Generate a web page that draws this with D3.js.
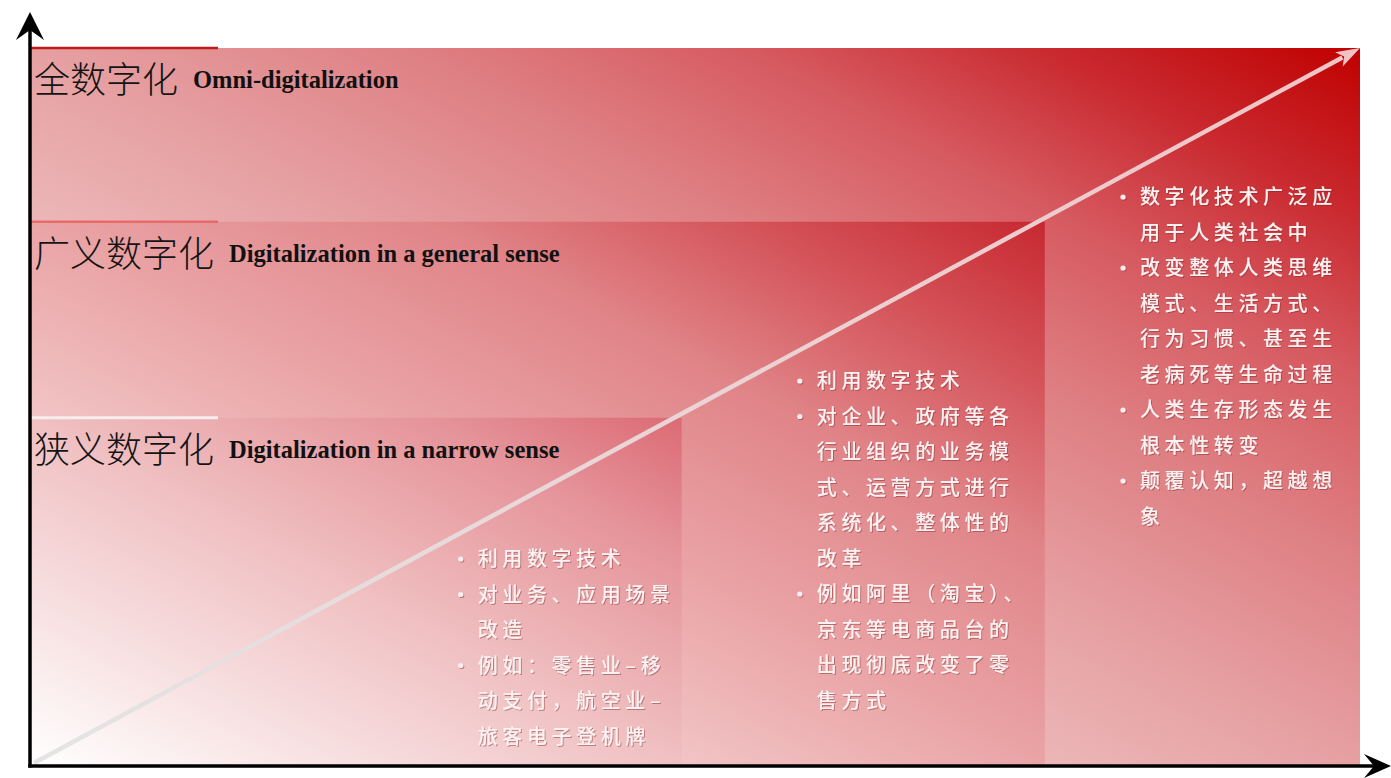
<!DOCTYPE html>
<html><head><meta charset="utf-8">
<script src="https://cdn.jsdelivr.net/npm/d3@7"></script>
<style>
html,body{margin:0;padding:0;background:#fff;}
svg{display:block;}
</style></head>
<body>
<svg id="chart" width="1391" height="778"></svg>
<script>
// ---- data ----
const levelNames = ["狭义数字化", "广义数字化", "全数字化"];
const levelEnglish = ["Digitalization in a narrow sense", "Digitalization in a general sense", "Omni-digitalization"];
const levelX = [0.49, 0.763, 1.0];     // breadth of each level (share of x axis)
const levelY = [0.485, 0.758, 1.0];    // depth of each level (share of y axis)
const levelStops = [
  [[0, "#ffffff"], [0.5, "#f0c0c2"], [0.8, "#e5949a"], [1, "#dc6a74"]],
  [[0, "#ffffff"], [0.5, "#eaa4a6"], [0.7, "#e08488"], [0.85, "#d4545a"], [1, "#c82830"]],
  [[0, "#ffffff"], [0.5, "#e6a0a2"], [0.65, "#de7e82"], [0.77, "#d65a60"], [0.88, "#c92a30"], [1, "#c00000"]]
];
const levelTabColor = ["#f6eeee", "#e86a6a", "#c21a1a"];
const narrowPoints = [
  {b:true, t:"利用数字技术"},
  {b:true, t:"对业务、应用场景"}, {b:false, t:"改造"},
  {b:true, t:"例如：零售业–移"}, {b:false, t:"动支付，航空业–"}, {b:false, t:"旅客电子登机牌"}
];
const generalPoints = [
  {b:true, t:"利用数字技术"},
  {b:true, t:"对企业、政府等各"}, {b:false, t:"行业组织的业务模"}, {b:false, t:"式、运营方式进行"}, {b:false, t:"系统化、整体性的"}, {b:false, t:"改革"},
  {b:true, t:"例如阿里（淘宝）、"}, {b:false, t:"京东等电商品台的"}, {b:false, t:"出现彻底改变了零"}, {b:false, t:"售方式"}
];
const omniPoints = [
  {b:true, t:"数字化技术广泛应"}, {b:false, t:"用于人类社会中"},
  {b:true, t:"改变整体人类思维"}, {b:false, t:"模式、生活方式、"}, {b:false, t:"行为习惯、甚至生"}, {b:false, t:"老病死等生命过程"},
  {b:true, t:"人类生存形态发生"}, {b:false, t:"根本性转变"},
  {b:true, t:"颠覆认知，超越想"}, {b:false, t:"象"}
];
const pointLists = [narrowPoints, generalPoints, omniPoints];

// ---- layout ----
const svg = d3.select("#chart");
const x = d3.scaleLinear().domain([0, 1]).range([30, 1360]);
const y = d3.scaleLinear().domain([0, 1]).range([766, 48]);
const blockLeftOffset = [224, 248, 240];   // px left of level's right edge
const blockFirstLine = [559, 381, 197];    // y of first line centre
const lineStep = 35.5;

const defs = svg.append("defs");
levelNames.forEach((n, i) => {
  const g = defs.append("linearGradient").attr("id", "lg" + i)
    .attr("x1", 0).attr("y1", 1).attr("x2", 1).attr("y2", 0);
  levelStops[i].forEach(s => g.append("stop").attr("offset", s[0]).attr("stop-color", s[1]));
});
const dg = defs.append("linearGradient").attr("id", "diag")
  .attr("gradientUnits", "userSpaceOnUse")
  .attr("x1", x(0)).attr("y1", y(0)).attr("x2", x(1)).attr("y2", y(1));
dg.append("stop").attr("offset", 0).attr("stop-color", "#e4e4e4");
dg.append("stop").attr("offset", 1).attr("stop-color", "#f0c4c6");
defs.append("filter").attr("id", "ts").attr("x", "-10%").attr("y", "-20%").attr("width", "120%").attr("height", "140%")
  .append("feDropShadow").attr("dx", 1).attr("dy", 1).attr("stdDeviation", 0.6)
  .attr("flood-color", "#7a2020").attr("flood-opacity", 0.45);

// rectangles, largest first
const order = [2, 1, 0];
svg.selectAll("rect.level").data(order).join("rect")
  .attr("class", "level")
  .attr("x", x(0)).attr("y", i => y(levelY[i]))
  .attr("width", i => x(levelX[i]) - x(0))
  .attr("height", i => y(0) - y(levelY[i]))
  .attr("fill", i => "url(#lg" + i + ")");

// tab lines
svg.selectAll("line.tab").data(order).join("line")
  .attr("class", "tab")
  .attr("x1", x(0)).attr("x2", 218)
  .attr("y1", i => y(levelY[i])).attr("y2", i => y(levelY[i]))
  .attr("stroke", i => levelTabColor[i]).attr("stroke-width", i => i === 0 ? 3 : 2.5);

// labels
levelNames.forEach((n, i) => {
  const ty = y(levelY[i]) + 45;
  const t = svg.append("text").attr("x", 34).attr("y", ty)
    .attr("font-family", "'Noto Sans CJK SC'").attr("font-weight", 300)
    .attr("font-size", 36).attr("fill", "#141414").text(n);
  const w = t.node().getComputedTextLength();
  svg.append("text").attr("x", 34 + w + 15).attr("y", ty - 5)
    .attr("font-family", "'Liberation Serif', 'Times New Roman', serif")
    .attr("font-weight", "bold").attr("font-size", 24.5).attr("fill", "#111")
    .text(levelEnglish[i]);
});

// diagonal arrow
const x0 = x(0) + 4, y0 = y(0) - 3, x1 = x(1), y1 = y(1);
const ang = Math.atan2(y1 - y0, x1 - x0);
const hl = 24, hw = 8;
const bx = x1 - hl * Math.cos(ang), by = y1 - hl * Math.sin(ang);
svg.append("line").attr("x1", x0).attr("y1", y0).attr("x2", bx + 4 * Math.cos(ang)).attr("y2", by + 4 * Math.sin(ang))
  .attr("stroke", "url(#diag)").attr("stroke-width", 4.5);
svg.append("path")
  .attr("d", `M${x1},${y1} L${bx - hw * Math.sin(ang)},${by + hw * Math.cos(ang)} L${bx + 6*Math.cos(ang)},${by + 6*Math.sin(ang)} L${bx + hw * Math.sin(ang)},${by - hw * Math.cos(ang)} Z`)
  .attr("fill", "#efc2c4");

// bullet texts
pointLists.forEach((pts, i) => {
  const left = x(levelX[i]) - blockLeftOffset[i];
  const g = svg.append("g").attr("filter", "url(#ts)");
  pts.forEach((p, k) => {
    const cy = blockFirstLine[i] + k * lineStep;
    if (p.b) g.append("circle").attr("cx", left + 3).attr("cy", cy).attr("r", 2.6).attr("fill", "#fbeeee");
    g.append("text").attr("x", left + 20).attr("y", cy).attr("dy", "0.36em")
      .attr("font-family", "'Noto Sans CJK SC'").attr("font-weight", 500)
      .attr("font-size", 20).attr("letter-spacing", 4.6)
      .attr("fill", "#fdf2f2").text(p.t);
  });
});

// axes
svg.append("line").attr("x1", x(0)).attr("y1", y(0) + 1.5).attr("x2", x(0)).attr("y2", 22)
  .attr("stroke", "#000").attr("stroke-width", 3.5);
svg.append("path").attr("d", `M${x(0)},12 L${x(0) - 14},40 L${x(0)},30 L${x(0) + 14},40 Z`).attr("fill", "#000");
svg.append("line").attr("x1", x(0) - 1.75).attr("y1", y(0)).attr("x2", 1380).attr("y2", y(0))
  .attr("stroke", "#000").attr("stroke-width", 3.5);
svg.append("path").attr("d", `M1391,${y(0)} L1364,${y(0) - 12} L1374,${y(0)} L1364,${y(0) + 12} Z`).attr("fill", "#000");
</script>
</body></html>
